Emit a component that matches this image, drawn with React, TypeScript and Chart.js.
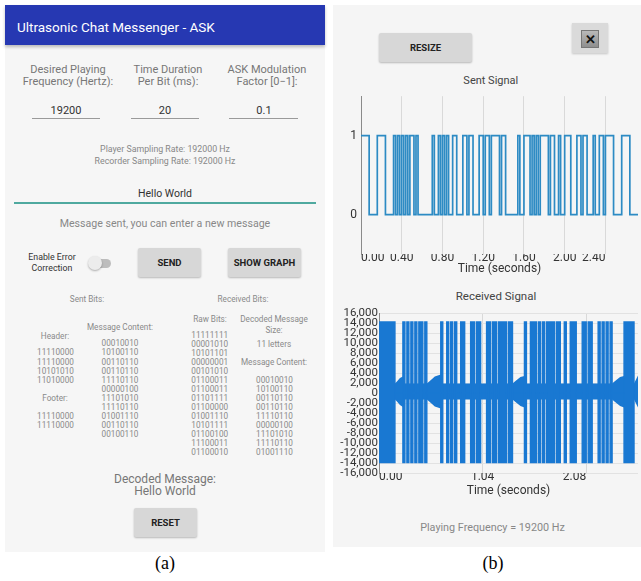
import React, { useEffect, useRef } from 'react';
import { Chart, registerables } from 'chart.js';

Chart.register(...registerables);

// Duration of one bit (ms field = 20)
const BIT_SECONDS = 0.02;

// Bits shown in the message panel and used for the signal plots
const sentHeader = ['11110000', '11110000', '10101010', '11010000'];
const sentContent = [
  '00010010', '10100110', '00110110', '00110110', '11110110', '00000100',
  '11101010', '11110110', '01001110', '00110110', '00100110',
];
const sentFooter = ['11110000', '11110000'];
const rawBits = [
  '11111111', '00001010', '10101101', '00000001', '00101010', '01100011', '01100011',
  '01101111', '01100000', '01001110', '10101111', '01100100', '11100011', '01100010',
];
// bits recorded after the last listed raw byte
const receivedTail = '101010000001111100';
const receivedContent = [
  '00010010', '10100110', '00110110', '00110110', '11110110', '00000100',
  '11101010', '11110110', '01001110',
];

// Axis ticks
const sentXTicks = [0, 0.4, 0.8, 1.2, 1.6, 2.0, 2.4];
const sentYTicks = [0, 1];
const receivedXTicks = [0, 1.04, 2.08];
const receivedYTicks = [
  16000, 14000, 12000, 10000, 8000, 6000, 4000, 2000, 0,
  -2000, -4000, -6000, -8000, -10000, -12000, -14000, -16000,
];

// Received carrier envelope: level during a 1 bit
const burstHigh = 14200;
const burstLow = -13900;
// Background noise band (time, upper, lower) during silent stretches
const noiseTimes = [0, 0.16, 0.18, 0.21, 0.24, 0.26, 0.48, 0.51, 0.56, 0.62, 0.64, 1.34, 1.37, 1.42, 1.46, 1.48, 2.34, 2.37, 2.42, 2.46, 2.48, 2.56, 2.58, 2.6];
const noiseUpper = [1900, 1900, 2300, 3000, 3300, 1900, 1900, 2400, 3300, 3700, 1900, 1900, 2400, 3200, 3400, 1900, 1900, 2400, 3200, 3400, 1900, 1900, 2700, 3500];
const noiseLower = [-1300, -1300, -1700, -2400, -2800, -1300, -1300, -1800, -2700, -3100, -1300, -1300, -1800, -2600, -2900, -1300, -1300, -1800, -2600, -2900, -1300, -1300, -2100, -2900];

const SENT_COLOR = '#2d8bc4';
const RECV_COLOR = '#1978d2';
const FONT = 'Roboto, sans-serif';

function buildSentPoints() {
  const bits = [...sentHeader, ...sentContent, ...sentFooter].join('');
  const pts = [...bits].map((b, i) => ({ x: i * BIT_SECONDS, y: Number(b) }));
  pts.push({ x: bits.length * BIT_SECONDS, y: 0 });
  return pts;
}

function buildEnvelope(level: number) {
  const bits = rawBits.join('') + receivedTail;
  const pts: { x: number; y: number }[] = [];
  [...bits].forEach((b, i) => {
    const v = b === '1' ? level : 0;
    pts.push({ x: i * BIT_SECONDS, y: v }, { x: (i + 1) * BIT_SECONDS, y: v });
  });
  return pts;
}

function SentChart() {
  const ref = useRef<HTMLCanvasElement>(null);
  useEffect(() => {
    const chart = new Chart(ref.current!, {
      type: 'line',
      data: {
        datasets: [
          {
            data: buildSentPoints(),
            stepped: true,
            borderColor: SENT_COLOR,
            borderWidth: 1.7,
            pointRadius: 0,
            fill: false,
          },
        ],
      },
      options: {
        animation: false,
        responsive: false,
        devicePixelRatio: 1,
        layout: { padding: { top: 5, right: 3, left: 0, bottom: 0 } },
        plugins: { legend: { display: false }, tooltip: { enabled: false } },
        scales: {
          x: {
            type: 'linear',
            min: 0,
            max: 2.72,
            afterBuildTicks: (s: any) => {
              s.ticks = sentXTicks.map((v) => ({ value: v }));
            },
            afterFit: (s: any) => {
              s.height = 26;
            },
            ticks: {
              align: 'inner',
              maxRotation: 0,
              autoSkip: false,
              padding: -2,
              color: '#333',
              font: { family: FONT, size: 12, lineHeight: 1 },
              callback: (v: any) => Number(v).toFixed(2),
            },
            grid: { color: '#d9d9d9', drawTicks: false, lineWidth: 1 },
            border: { display: false },
            title: {
              display: true,
              text: 'Time (seconds)',
              color: '#333',
              font: { family: FONT, size: 12 },
              padding: { top: 0, bottom: 3.5 },
            },
          },
          y: {
            min: -0.5,
            max: 1.5,
            afterBuildTicks: (s: any) => {
              s.ticks = sentYTicks.map((v) => ({ value: v }));
            },
            afterFit: (s: any) => {
              s.width = 28;
            },
            ticks: { padding: 4, color: '#333', font: { family: FONT, size: 12 } },
            grid: { display: false, drawTicks: false },
            border: { display: true, color: '#8a8a8a', width: 1 },
          },
        },
      },
    } as any);
    return () => chart.destroy();
  }, []);
  return <canvas ref={ref} width={308} height={195} style={{ position: 'absolute', left: 333, top: 85 }} />;
}

function ReceivedChart() {
  const ref = useRef<HTMLCanvasElement>(null);
  useEffect(() => {
    const common = { pointRadius: 0, borderColor: RECV_COLOR, backgroundColor: RECV_COLOR };
    const chart = new Chart(ref.current!, {
      type: 'line',
      data: {
        datasets: [
          { ...common, data: buildEnvelope(burstHigh), borderWidth: 1.4, fill: false },
          { ...common, data: buildEnvelope(burstLow), borderWidth: 1.4, fill: '-1' },
          { ...common, data: noiseTimes.map((t, i) => ({ x: t, y: noiseUpper[i] })), borderWidth: 0, fill: false },
          { ...common, data: noiseTimes.map((t, i) => ({ x: t, y: noiseLower[i] })), borderWidth: 0, fill: '-1' },
        ],
      },
      options: {
        animation: false,
        responsive: false,
        devicePixelRatio: 1,
        layout: { padding: { top: 13, right: 3, left: 0, bottom: 0 } },
        plugins: { legend: { display: false }, tooltip: { enabled: false } },
        scales: {
          x: {
            type: 'linear',
            min: 0,
            max: 2.6,
            afterBuildTicks: (s: any) => {
              s.ticks = receivedXTicks.map((v) => ({ value: v }));
            },
            afterFit: (s: any) => {
              s.height = 27;
            },
            ticks: {
              align: 'inner',
              maxRotation: 0,
              autoSkip: false,
              padding: -2,
              color: '#333',
              font: { family: FONT, size: 12, lineHeight: 1 },
              callback: (v: any) => Number(v).toFixed(2),
            },
            grid: { color: '#d9d9d9', drawTicks: false },
            border: { display: false },
            title: {
              display: true,
              text: 'Time (seconds)',
              color: '#333',
              font: { family: FONT, size: 12 },
              padding: { top: 0, bottom: 2 },
            },
          },
          y: {
            min: -16000,
            max: 16000,
            afterBuildTicks: (s: any) => {
              s.ticks = receivedYTicks.map((v) => ({ value: v }));
            },
            afterFit: (s: any) => {
              s.width = 46;
            },
            ticks: {
              autoSkip: false,
              padding: 1,
              color: '#333',
              font: { family: FONT, size: 11.5, lineHeight: 1 },
              callback: (v: any) => Number(v).toLocaleString('en-US'),
            },
            grid: { color: '#e2e2e2', drawTicks: false },
            border: { display: true, color: '#8a8a8a', width: 1 },
          },
        },
      },
    } as any);
    return () => chart.destroy();
  }, []);
  return <canvas ref={ref} width={308} height={200} style={{ position: 'absolute', left: 333, top: 300 }} />;
}

type TxtProps = {
  x: number;
  y: number;
  s: number;
  c?: string;
  w?: number;
  f?: string;
  children: React.ReactNode;
};

function Txt({ x, y, s, c = '#777', w = 400, f = FONT, children }: TxtProps) {
  return (
    <div
      style={{
        position: 'absolute',
        left: x,
        top: y,
        transform: 'translate(-50%, -50%)',
        fontSize: s,
        color: c,
        fontWeight: w,
        fontFamily: f,
        whiteSpace: 'nowrap',
        lineHeight: 1,
      }}
    >
      {children}
    </div>
  );
}

function Button({ x, y, w, h, label }: { x: number; y: number; w: number; h: number; label: string }) {
  return (
    <div
      style={{
        position: 'absolute',
        left: x,
        top: y,
        width: w,
        height: h,
        background: '#d7d7d7',
        borderRadius: 2,
        boxShadow: '0 1px 2px rgba(0,0,0,0.25)',
        display: 'flex',
        alignItems: 'center',
        justifyContent: 'center',
        fontFamily: FONT,
        fontWeight: 700,
        fontSize: 9.5,
        color: '#222',
      }}
    >
      {label}
    </div>
  );
}

function Underline({ x1, x2, y, color = '#9a9a9a', h = 1 }: { x1: number; x2: number; y: number; color?: string; h?: number }) {
  return <div style={{ position: 'absolute', left: x1, top: y, width: x2 - x1, height: h, background: color }} />;
}

function BitColumn({ x, y0, step, rows }: { x: number; y0: number; step: number; rows: string[] }) {
  return (
    <>
      {rows.map((r, i) => (
        <Txt key={i} x={x} y={y0 + i * step} s={8.2} c="#8a8a8a">
          {r}
        </Txt>
      ))}
    </>
  );
}

function PanelA() {
  const small = { s: 8.2, c: '#8a8a8a' };
  return (
    <div style={{ position: 'absolute', left: 5, top: 5, width: 320, height: 547, background: '#f6f6f6' }}>
      <div style={{ position: 'relative', left: -5, top: -5, width: 641, height: 581 }}>
        <div
          style={{
            position: 'absolute',
            left: 5,
            top: 5,
            width: 320,
            height: 40,
            background: '#2638b2',
            boxShadow: '0 2px 3px rgba(0,0,0,0.25)',
          }}
        />
        <div style={{ position: 'absolute', left: 17, top: 28, transform: 'translateY(-50%)', color: '#fff', fontFamily: FONT, fontSize: 13.5, lineHeight: 1, whiteSpace: 'nowrap' }}>
          Ultrasonic Chat Messenger - ASK
        </div>

        <Txt x={68} y={69} s={11}>Desired Playing</Txt>
        <Txt x={68} y={81} s={11}>Frequency (Hertz):</Txt>
        <Txt x={168} y={69} s={11}>Time Duration</Txt>
        <Txt x={168} y={81} s={11}>Per Bit (ms):</Txt>
        <Txt x={267} y={69} s={11}>ASK Modulation</Txt>
        <Txt x={267} y={81} s={11}>Factor [0−1]:</Txt>

        <Txt x={66} y={110} s={11} c="#333">19200</Txt>
        <Underline x1={32} x2={100} y={118} />
        <Txt x={165} y={110} s={11} c="#333">20</Txt>
        <Underline x1={131} x2={199} y={118} />
        <Txt x={264} y={110} s={11} c="#333">0.1</Txt>
        <Underline x1={229} x2={298} y={118} />

        <Txt x={165} y={149} s={8.8} c="#888">Player Sampling Rate: 192000 Hz</Txt>
        <Txt x={165} y={161} s={8.8} c="#888">Recorder Sampling Rate: 192000 Hz</Txt>

        <Txt x={165} y={194} s={10.5} c="#333">Hello World</Txt>
        <Underline x1={14} x2={316} y={202} color="#4fa99f" h={2} />

        <Txt x={165} y={224} s={10.6} c="#888">Message sent, you can enter a new message</Txt>

        <Txt x={52} y={257} s={8.8} c="#333">Enable Error</Txt>
        <Txt x={52} y={268} s={8.8} c="#333">Correction</Txt>
        <div style={{ position: 'absolute', left: 89, top: 258.5, width: 22, height: 9, borderRadius: 5, background: '#bdbdbd' }} />
        <div
          style={{
            position: 'absolute',
            left: 87.5,
            top: 256,
            width: 14,
            height: 14,
            borderRadius: 7,
            background: '#ececec',
            boxShadow: '0 1px 2px rgba(0,0,0,0.3)',
          }}
        />
        <Button x={138} y={248} w={63} h={29} label="SEND" />
        <Button x={228} y={248} w={73} h={29} label="SHOW GRAPH" />

        <Txt x={87} y={299} {...small}>Sent Bits:</Txt>
        <Txt x={243} y={299} {...small}>Received Bits:</Txt>
        <Txt x={120} y={327} {...small}>Message Content:</Txt>
        <Txt x={55} y={336} {...small}>Header:</Txt>
        <BitColumn x={55.5} y0={352.4} step={9.1} rows={sentHeader} />
        <BitColumn x={120} y0={343.3} step={9.1} rows={sentContent} />
        <Txt x={55} y={398} {...small}>Footer:</Txt>
        <BitColumn x={55.5} y0={416.1} step={9.1} rows={sentFooter} />

        <Txt x={210} y={319} {...small}>Raw Bits:</Txt>
        <Txt x={274} y={319} {...small}>Decoded Message</Txt>
        <Txt x={274} y={329.5} {...small}>Size:</Txt>
        <BitColumn x={209.7} y0={335} step={9.03} rows={rawBits} />
        <Txt x={274} y={344} {...small}>11 letters</Txt>
        <Txt x={274} y={362} {...small}>Message Content:</Txt>
        <BitColumn x={274.5} y0={380} step={9.03} rows={receivedContent} />

        <Txt x={165} y={478.5} s={12} c="#777">Decoded Message:</Txt>
        <Txt x={165} y={490.5} s={12} c="#777">Hello World</Txt>
        <Button x={134} y={508} w={63} h={29} label="RESET" />
      </div>
    </div>
  );
}

function PanelB() {
  return (
    <>
      <div style={{ position: 'absolute', left: 333, top: 5, width: 308, height: 542, background: '#f5f5f5' }} />
      <Button x={379} y={33} w={93} h={29} label="RESIZE" />
      <div style={{ position: 'absolute', left: 572, top: 23, width: 36, height: 30, background: '#dadada', boxShadow: '0 1px 2px rgba(0,0,0,0.2)' }} />
      <div
        style={{
          position: 'absolute',
          left: 581,
          top: 30,
          width: 18,
          height: 18,
          background: 'linear-gradient(#b9b9b9, #8f8f8f)',
          border: '1px solid #777',
          boxSizing: 'border-box',
          display: 'flex',
          alignItems: 'center',
          justifyContent: 'center',
          fontFamily: FONT,
          fontWeight: 900,
          fontSize: 13,
          color: '#111',
          lineHeight: 1,
        }}
      >
        ✕
      </div>
      <Txt x={490.8} y={80} s={11} c="#444">Sent Signal</Txt>
      <SentChart />
      <Txt x={496} y={297.3} s={11.5} c="#444">Received Signal</Txt>
      <ReceivedChart />
      <Txt x={492.5} y={527.7} s={10.8} c="#888">Playing Frequency = 19200 Hz</Txt>
    </>
  );
}

export default function App() {
  return (
    <div
      style={{
        position: 'fixed',
        left: 0,
        top: 0,
        width: 641,
        height: 581,
        background: '#fff',
        overflow: 'hidden',
        fontFamily: FONT,
      }}
    >
      <PanelA />
      <PanelB />
      <Txt x={165} y={563} s={18} c="#000" f="'Liberation Serif', 'Times New Roman', serif">(a)</Txt>
      <Txt x={493} y={563} s={18} c="#000" f="'Liberation Serif', 'Times New Roman', serif">(b)</Txt>
    </div>
  );
}
